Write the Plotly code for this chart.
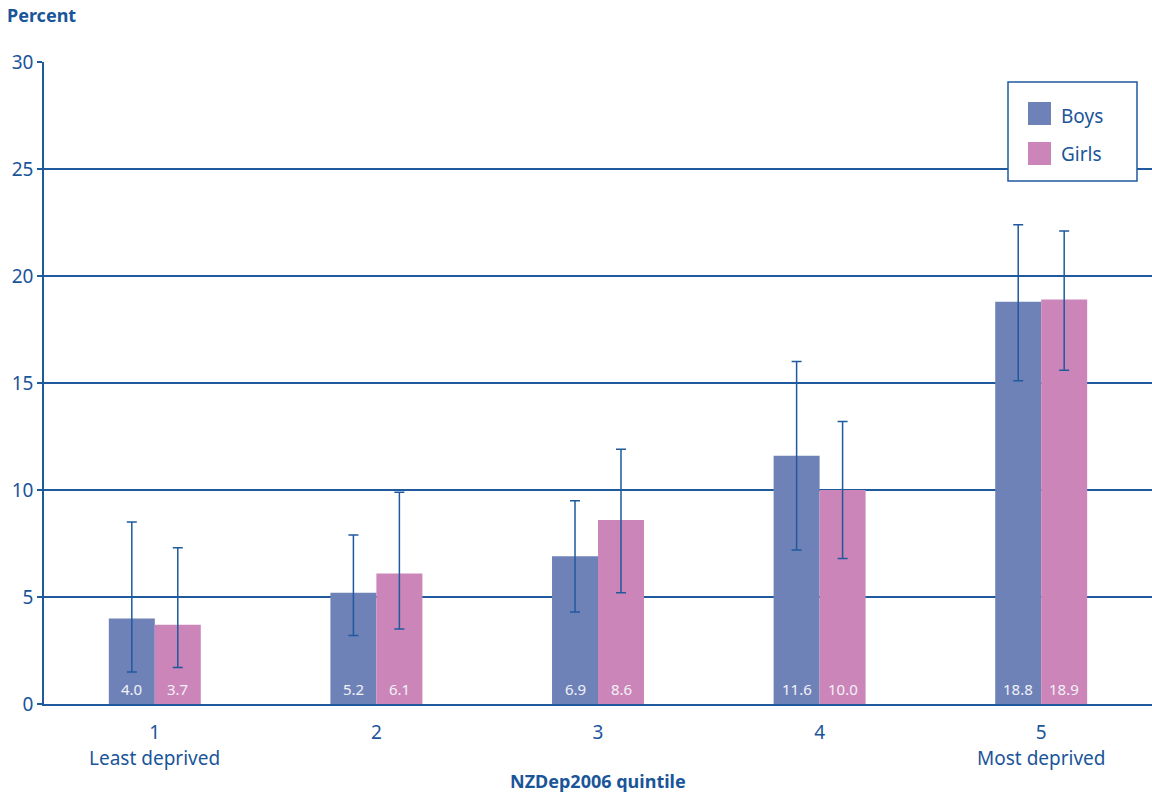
import plotly.graph_objects as go

quintiles = [1, 2, 3, 4, 5]
tick_labels = ["1", "2", "3", "4", "5"]
sub_labels = {1: "Least deprived", 5: "Most deprived"}

boys = [4.0, 5.2, 6.9, 11.6, 18.8]
boys_lo = [1.5, 3.2, 4.3, 7.2, 15.1]
boys_hi = [8.5, 7.9, 9.5, 16.0, 22.4]

girls = [3.7, 6.1, 8.6, 10.0, 18.9]
girls_lo = [1.7, 3.5, 5.2, 6.8, 15.6]
girls_hi = [7.3, 9.9, 11.9, 13.2, 22.1]

BLUE = "#1a5599"
LINE = "#1f5a9e"
BOYS_C = "#6f82b8"
GIRLS_C = "#cc85b8"
FONT = "Noto Sans"

W, H = 1152, 797
L, R, T, B = 44, 0, 62, 93
pw, ph = W - L - R, H - T - B


def px(x):
    return (x - L) / pw


def py(y):
    return (H - B - y) / ph


fig = go.Figure()
for name, vals, lo, hi, col in [("Boys", boys, boys_lo, boys_hi, BOYS_C),
                                ("Girls", girls, girls_lo, girls_hi, GIRLS_C)]:
    fig.add_trace(go.Bar(
        x=quintiles, y=vals, name=name, marker=dict(color=col, line=dict(width=0)),
        showlegend=False,
        error_y=dict(type="data", symmetric=False,
                     array=[h - v for h, v in zip(hi, vals)],
                     arrayminus=[v - l for l, v in zip(lo, vals)],
                     color=LINE, thickness=1.5, width=5),
    ))

annotations = []
for q, b, g in zip(quintiles, boys, girls):
    for v, sh in [(b, -23), (g, 23)]:
        annotations.append(dict(x=q, y=0, xref="x", yref="y", text=f"{v:.1f}",
                                showarrow=False, xshift=sh, yanchor="bottom", yshift=3,
                                font=dict(family=FONT, size=15, color="#f2f2f8")))
for q, s in sub_labels.items():
    annotations.append(dict(x=q, y=py(758), xref="x", yref="paper", text=s,
                            showarrow=False, yanchor="middle",
                            font=dict(family=FONT, size=19, color=BLUE)))
annotations.append(dict(x=px(5), y=py(15), xref="paper", yref="paper", text="<b>Percent</b>",
                        showarrow=False, xanchor="left", yanchor="middle",
                        font=dict(family=FONT, size=18, color=BLUE)))
annotations.append(dict(x=px(598), y=py(781), xref="paper", yref="paper",
                        text="<b>NZDep2006 quintile</b>", showarrow=False, yanchor="middle",
                        font=dict(family=FONT, size=18, color=BLUE)))
# legend (manual)
for name, col, cy in [("Boys", BOYS_C, 116), ("Girls", GIRLS_C, 154)]:
    annotations.append(dict(x=px(1059), y=py(cy), xref="paper", yref="paper", text=name,
                            showarrow=False, xanchor="left", yanchor="middle",
                            font=dict(family=FONT, size=19, color=BLUE)))

shapes = [dict(type="rect", xref="paper", yref="paper", x0=px(1008), x1=px(1137),
               y0=py(181), y1=py(82), line=dict(color=LINE, width=1.5), fillcolor="white")]
for col, cy in [(BOYS_C, 113.5), (GIRLS_C, 153.5)]:
    shapes.append(dict(type="rect", xref="paper", yref="paper", x0=px(1028), x1=px(1051),
                       y0=py(cy + 11.5), y1=py(cy - 11.5), line=dict(width=0), fillcolor=col))

fig.update_layout(
    width=W, height=H, margin=dict(l=L, r=R, t=T, b=B),
    paper_bgcolor="white", plot_bgcolor="white",
    barmode="group", bargap=0.585, bargroupgap=0,
    font=dict(family=FONT, color=BLUE),
    annotations=annotations, shapes=shapes,
    xaxis=dict(range=[0.5, 5.5], tickvals=quintiles, ticktext=tick_labels,
               showgrid=False, zeroline=False, showline=True, linecolor=LINE, linewidth=1.6,
               ticks="", tickfont=dict(size=19, color=BLUE), ticklabelstandoff=10),
    yaxis=dict(range=[0, 30], tickvals=[0, 5, 10, 15, 20, 25, 30], showgrid=True,
               gridcolor=LINE, gridwidth=1.5, zeroline=False, showline=True, linecolor=LINE,
               linewidth=1.6, ticks="outside", ticklen=5, tickcolor=LINE, tickwidth=1.5,
               tickfont=dict(size=19, color=BLUE)),
)

fig.write_html("out.html", config={"displayModeBar": False})
with open("out.html", encoding="utf-8") as f:
    html = f.read()
html = html.replace("<head>", "<head><style>html,body{margin:0;padding:0;overflow:hidden;}</style>", 1)
with open("out.html", "w", encoding="utf-8") as f:
    f.write(html)
